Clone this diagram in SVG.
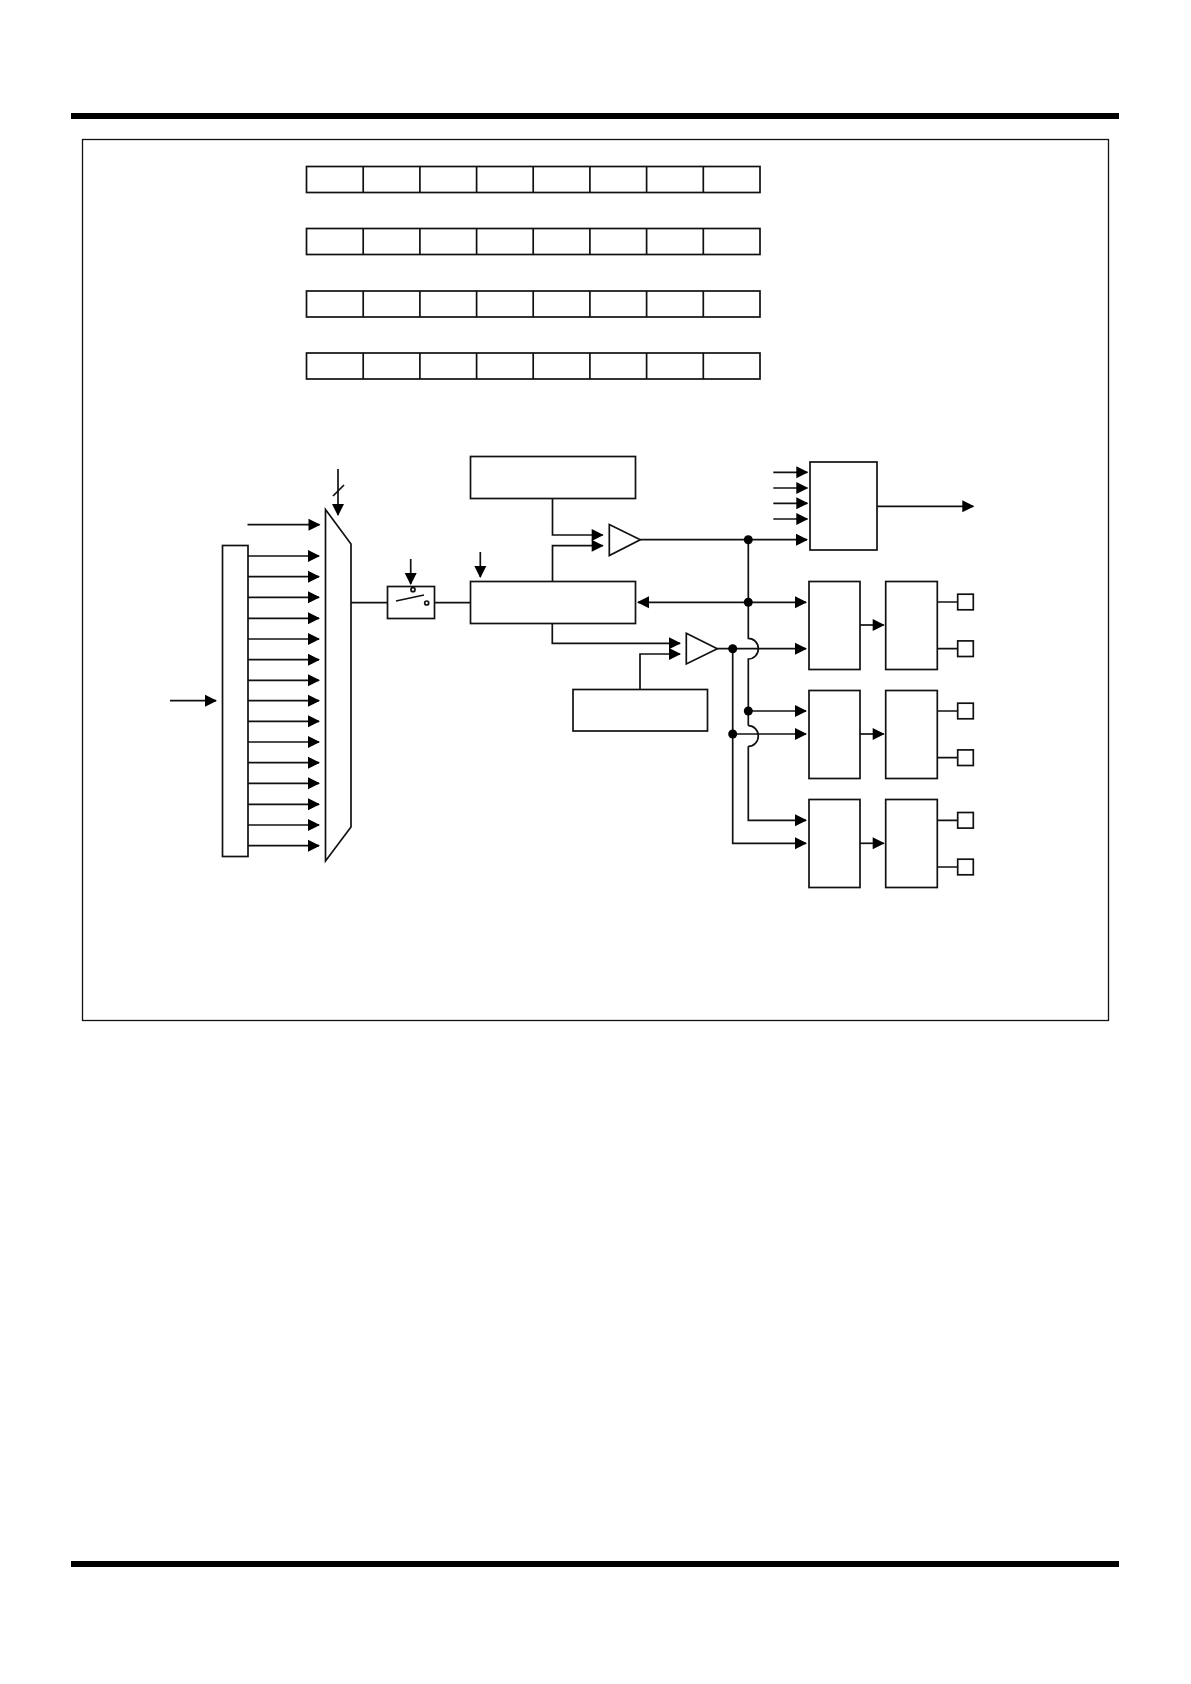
<svg xmlns="http://www.w3.org/2000/svg" width="1191" height="1684" viewBox="0 0 1191 1684">
<style>
.s{fill:#fff;stroke:#111;stroke-width:1.7}
.c{fill:none;stroke:#111;stroke-width:1.7}
.a{marker-end:url(#ah)}
.d{fill:#000;stroke:none}
</style>
<defs>
<marker id="ah" markerUnits="userSpaceOnUse" markerWidth="13" markerHeight="13" refX="11" refY="6" orient="auto-start-reverse" overflow="visible"><path d="M0 0L12 6L0 12Z" fill="#000"/></marker>
<g id="reg"><rect class="s" x="306.5" y="0" width="453.5" height="26"/><path class="c" d="M363.2 0V26M419.9 0V26M476.6 0V26M533.2 0V26M589.9 0V26M646.6 0V26M703.3 0V26"/></g>
</defs>
<rect width="1191" height="1684" fill="#fff"/>
<rect id="top-rule" x="71" y="113" width="1048" height="6" fill="#000"/>
<rect id="bottom-rule" x="71" y="1561" width="1048" height="6" fill="#000"/>
<rect id="frame" class="s" style="stroke-width:1.3" x="82.5" y="139.5" width="1026" height="881"/>
<use id="register-1" href="#reg" y="166.5"/>
<use id="register-2" href="#reg" y="228.5"/>
<use id="register-3" href="#reg" y="291"/>
<use id="register-4" href="#reg" y="353"/>
<g id="input-block"><rect class="s" x="222.5" y="545.5" width="25.5" height="311"/></g>
<g id="mux"><path class="s" d="M325.5 509.5L351 544V827L325.5 861Z"/></g>
<g id="switch"><rect class="s" x="387.5" y="586.5" width="47" height="32"/><circle class="s" cx="413" cy="589.7" r="2"/><circle class="s" cx="426.7" cy="603" r="2"/><path class="c" d="M396 601L424 595"/></g>
<g id="upper-box"><rect class="s" x="470.5" y="456.5" width="165" height="42"/></g>
<g id="main-box"><rect class="s" x="470.5" y="581.5" width="165" height="42"/></g>
<g id="lower-box"><rect class="s" x="573" y="689.5" width="134.5" height="41.5"/></g>
<g id="comparator-1"><path class="s" d="M609.3 524.5L640.3 539.7L609.3 555.5Z"/></g>
<g id="comparator-2"><path class="s" d="M686.3 633.3L717.3 648.7L686.3 664Z"/></g>
<g id="logic-box"><rect class="s" x="810" y="462" width="67" height="88"/></g>
<g id="block-1a"><rect class="s" x="809" y="581.5" width="51" height="88"/></g>
<g id="block-1b"><rect class="s" x="885.7" y="581.5" width="51.6" height="88"/></g>
<g id="block-2a"><rect class="s" x="809" y="690.5" width="51" height="88"/></g>
<g id="block-2b"><rect class="s" x="885.7" y="690.5" width="51.6" height="88"/></g>
<g id="block-3a"><rect class="s" x="809" y="799.5" width="51" height="88"/></g>
<g id="block-3b"><rect class="s" x="885.7" y="799.5" width="51.6" height="88"/></g>
<g id="pin-1"><rect class="s" x="957.7" y="594.2" width="15.6" height="15.6"/></g>
<g id="pin-2"><rect class="s" x="957.7" y="640.9" width="15.6" height="15.6"/></g>
<g id="pin-3"><rect class="s" x="957.7" y="703.2" width="15.6" height="15.6"/></g>
<g id="pin-4"><rect class="s" x="957.7" y="749.9" width="15.6" height="15.6"/></g>
<g id="pin-5"><rect class="s" x="957.7" y="812.5" width="15.6" height="15.6"/></g>
<g id="pin-6"><rect class="s" x="957.7" y="859.2" width="15.6" height="15.6"/></g>
<g id="connectors">
<path class="c a" d="M247.5 524.7H319.5"/>
<path class="c a" d="M248 556H319"/><path class="c a" d="M248 576.7H319"/><path class="c a" d="M248 597.3H319"/><path class="c a" d="M248 618.3H319"/><path class="c a" d="M248 639H319"/><path class="c a" d="M248 659.7H319"/><path class="c a" d="M248 680.3H319"/><path class="c a" d="M248 700.7H319"/><path class="c a" d="M248 721.3H319"/><path class="c a" d="M248 742H319"/><path class="c a" d="M248 762.7H319"/><path class="c a" d="M248 783.3H319"/><path class="c a" d="M248 804.3H319"/><path class="c a" d="M248 825H319"/><path class="c a" d="M248 845.7H319"/>
<path class="c a" d="M170 700.7H216"/>
<path class="c a" d="M338 469V515"/><path class="c" d="M333 496L344 485"/>
<path class="c" d="M351 602.7H387.5M434.5 602.7H470.5"/>
<path class="c a" d="M410.7 559V584"/>
<path class="c a" d="M480.3 552V577"/>
<path class="c a" d="M552.5 498.5V535H602.7"/>
<path class="c a" d="M552.5 581.5V545.7H602.7"/>
<path class="c a" d="M552.3 623.5V643.3H680"/>
<path class="c a" d="M640 689.5V654H680"/>
<path class="c a" d="M640.3 539.7H807"/>
<path class="c a" d="M773.3 472.3H807.3"/><path class="c a" d="M773.3 488H807.3"/><path class="c a" d="M773.3 503.3H807.3"/><path class="c a" d="M773.3 519H807.3"/>
<path class="c a" d="M877 506.3H973.3"/>
<path class="c" d="M638 602.3H748.3" marker-start="url(#ah)"/>
<path class="c a" d="M748.3 602.3H806"/>
<path class="c a" d="M717.3 648.7H806"/>
<path class="c" d="M748.3 539.7V638.3A10 10.3 0 0 1 748.3 659V725.7"/>
<path class="c a" d="M748.3 711H806"/>
<path class="c" d="M748.3 725.7A10 10.3 0 0 1 748.3 746.3"/>
<path class="c a" d="M748.3 746.3V820.3H806"/>
<path class="c a" d="M732.7 648.7V843.3H806"/>
<path class="c a" d="M732.7 734H806"/>
<path class="c a" d="M860 625H883.7"/><path class="c a" d="M860 734H883.7"/><path class="c a" d="M860 843.3H883.7"/>
<path class="c" d="M937.3 602H957.7M937.3 648.7H957.7M937.3 711H957.7M937.3 757.7H957.7M937.3 820.3H957.7M937.3 867H957.7"/>
<circle class="d" cx="748.3" cy="539.7" r="4.5"/><circle class="d" cx="748.3" cy="602.3" r="4.5"/><circle class="d" cx="732.7" cy="648.7" r="4.5"/><circle class="d" cx="748.3" cy="711" r="4.5"/><circle class="d" cx="732.7" cy="734" r="4.5"/>
</g>
</svg>
